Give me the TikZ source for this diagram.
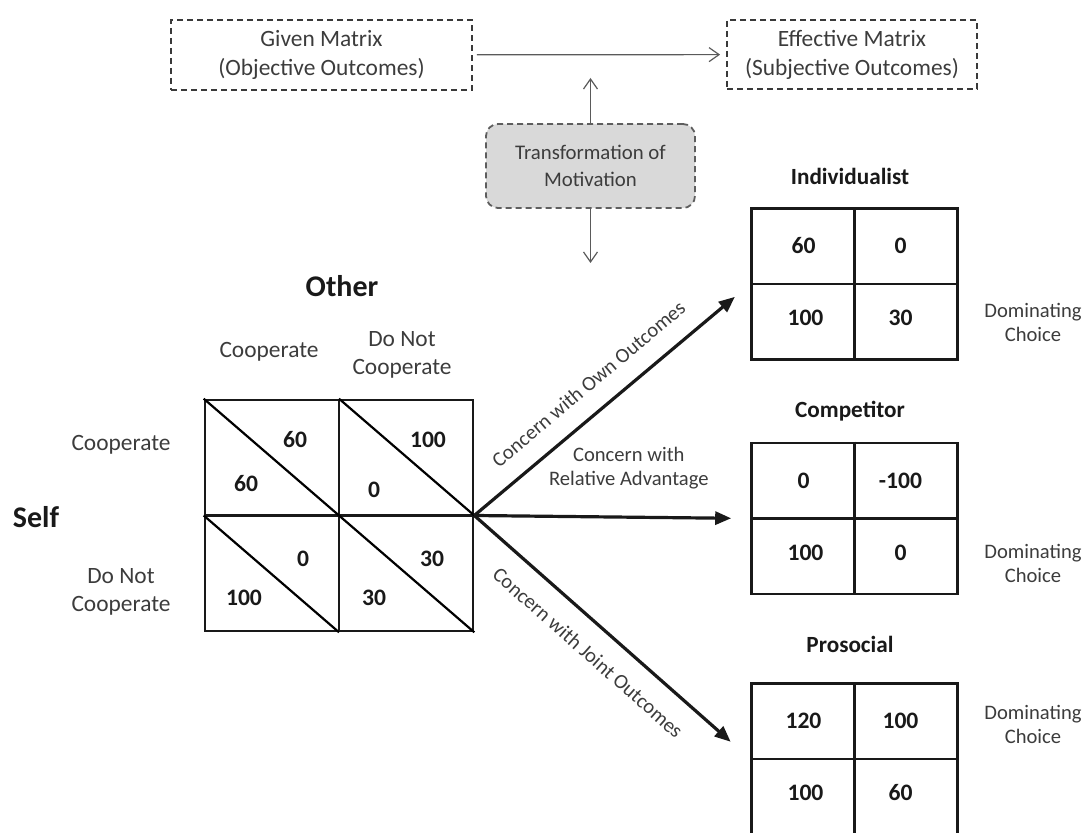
\documentclass[tikz,border=0pt]{standalone}
\usepackage{fontspec}
\setmainfont{Carlito}
\usetikzlibrary{calc, positioning, arrows.meta}

\begin{document}
\begin{tikzpicture}[x=0.5pt, y=-0.5pt,
    topbox/.style={draw=boxGrey, densely dashed, line width=0.9pt, inner sep=0pt,
        align=center, text=labelGrey, font=\fontsize{11.7}{14.5}\selectfont},
    transbox/.style={topbox, fill=transFill, draw=transBorder, rounded corners=6pt,
        font=\fontsize{10.4}{13.5}\selectfont},
    thinarrow/.style={draw=arrowGrey, line width=0.6pt, -{Straight Barb[length=5pt,width=7pt]}},
    bigarrow/.style={draw=black!90, line width=1.6pt, -{Triangle[length=8pt,width=6.5pt]}},
    gridbox/.style={draw=black!90, line width=1.3pt, inner sep=0pt},
    gridline/.style={draw=black!90, line width=1.3pt},
    lbl/.style={text=labelGrey, align=center, font=\fontsize{11.7}{14}\selectfont},
    smalllbl/.style={text=labelGrey, align=center, font=\fontsize{10.3}{12}\selectfont},
    num/.style={text=black!90, font=\fontsize{11.8}{14}\selectfont\bfseries},
    heading/.style={text=black!90, font=\fontsize{11.6}{14}\selectfont\bfseries},
    player/.style={text=black!90, font=\fontsize{15}{18}\selectfont\bfseries}]

    \definecolor{boxGrey}{HTML}{3A3A3A}
    \definecolor{labelGrey}{HTML}{3C3C3C}
    \definecolor{arrowGrey}{HTML}{5A5A5A}
    \definecolor{transFill}{HTML}{D9D9D9}
    \definecolor{transBorder}{HTML}{5E5E5E}

    % Fix the canvas
    \useasboundingbox (0,0) rectangle (1089,833);
    \clip (0,0) rectangle (1089,833);

    % Draw given and effective matrix boxes
    \node[topbox, minimum width=150.5pt, minimum height=35pt] (given) at (321.5,55)
        {Given Matrix\\(Objective Outcomes)};
    \node[topbox, minimum width=125pt, minimum height=34.5pt] (effective) at (852,54.5)
        {Effective Matrix\\(Subjective Outcomes)};
    \draw[thinarrow, shorten <=2pt, shorten >=3pt] (given) -- (effective);

    % Draw transformation box
    \node[transbox, minimum width=104.5pt, minimum height=42pt] (trans) at (590.5,166)
        {Transformation of\\Motivation};
    \coordinate (upTip) at (590.5,78);
    \coordinate (downTip) at (590.5,263);
    \draw[thinarrow] (trans.north) -- (upTip);
    \draw[thinarrow] (trans.south) -- (downTip);

    % Draw the given payoff matrix
    \node[gridbox, minimum width=134pt, minimum height=115.5pt] (payoff) at (339,515.5) {};
    \draw[gridline] (payoff.north) -- (payoff.south);
    \draw[gridline] (payoff.west) -- (payoff.east);
    \draw[line width=1.1pt] (payoff.north west) -- (payoff.center);
    \draw[line width=1.1pt] (payoff.north) -- (payoff.east);
    \draw[line width=1.1pt] (payoff.west) -- (payoff.south);
    \draw[line width=1.1pt] (payoff.center) -- (payoff.south east);

    % Label players and choices
    \node[player] (other) at (342,286) {Other};
    \node[player] (self) at (36,517) {Self};
    \node[lbl] (colCoop) at (269,352) {Cooperate};
    \node[lbl] (colDefect) at (402,355) {Do Not\\Cooperate};
    \node[lbl] (rowCoop) at (121,445) {Cooperate};
    \node[lbl] (rowDefect) at (121,592) {Do Not\\Cooperate};

    % Outcomes in each cell
    \node[num] (ccOther) at (295,440) {60};
    \node[num] (ccSelf) at (246,484) {60};
    \node[num] (cdOther) at (428,440) {100};
    \node[num] (cdSelf) at (374,490) {0};
    \node[num] (dcOther) at (303,559) {0};
    \node[num] (dcSelf) at (244,598) {100};
    \node[num] (ddOther) at (432,559) {30};
    \node[num] (ddSelf) at (374,598) {30};

    % Draw the three effective matrices
    \foreach \nm/\cy/\ttl/\ty/\dy/\a/\b/\c/\d in {
        indiv/284/Individualist/176/38/60/0/100/30,
        comp/518.5/Competitor/411/44.5/0/-100/100/0,
        proso/759/Prosocial/644/-35/120/100/100/60} {
        \node[gridbox, minimum width=103pt, minimum height=75.5pt] (\nm) at (854.5,\cy) {};
        \draw[gridline] (\nm.north) -- (\nm.south);
        \draw[gridline] (\nm.west) -- (\nm.east);
        \node[heading] (\nm Title) at (850,\ty) {\ttl};
        \node[num] (\nm A) at ($(\nm.center)+(-51,-38)$) {\a};
        \node[num] (\nm B) at ($(\nm.center)+(46,-38)$) {\b};
        \node[num] (\nm C) at ($(\nm.center)+(-49,34)$) {\c};
        \node[num] (\nm D) at ($(\nm.center)+(46,34)$) {\d};
        \node[smalllbl] (\nm Note) at (1033,\cy+\dy) {Dominating\\Choice};
    }

    % Draw the transformation arrows
    \draw[bigarrow, shorten >=10pt] (payoff.east) -- (indiv.west)
        node[smalllbl, midway, sloped, above=6pt, xshift=-4pt] (ownLbl) {Concern with Own Outcomes};
    \draw[bigarrow, shorten >=9.5pt] (payoff.east) -- (comp.west)
        node[smalllbl, pos=0.56, above=10pt] (relLbl) {Concern with\\Relative Advantage};
    \draw[bigarrow, shorten >=13pt] (payoff.east) -- (proso.west)
        node[smalllbl, midway, sloped, below=6pt, xshift=-4pt] (jointLbl) {Concern with Joint Outcomes};

\end{tikzpicture}
\end{document}
